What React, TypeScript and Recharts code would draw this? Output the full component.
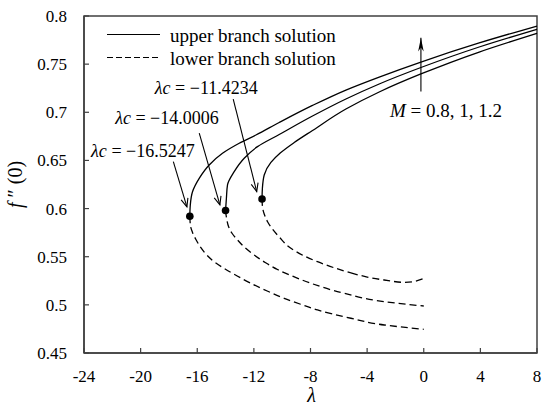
import React from 'react';
import {
  ComposedChart,
  Line,
  Scatter,
  XAxis,
  YAxis,
  ReferenceArea,
  ReferenceLine,
  ReferenceDot,
  Legend,
  Label,
} from 'recharts';

const FONT = '"Liberation Serif", "Times New Roman", "DejaVu Serif", serif';

// Axis ticks
const xTicks = [-24, -20, -16, -12, -8, -4, 0, 4, 8];
const yTicks = [0.45, 0.5, 0.55, 0.6, 0.65, 0.7, 0.75, 0.8];

// Upper branch solutions (solid)
const upperA = [
  { x: -16.5247, y: 0.592 }, { x: -16.491, y: 0.6037 }, { x: -16.335, y: 0.6175 },
  { x: -15.862, y: 0.6314 }, { x: -15.156, y: 0.6453 }, { x: -14.216, y: 0.6574 },
  { x: -13.036, y: 0.6678 }, { x: -11.857, y: 0.6764 }, { x: -10.211, y: 0.6894 },
  { x: -7.859, y: 0.7071 }, { x: -5.499, y: 0.7231 }, { x: -3.147, y: 0.7366 },
  { x: -0.201, y: 0.7522 }, { x: 3.917, y: 0.772 }, { x: 8, y: 0.7896 },
];
const upperB = [
  { x: -14.0006, y: 0.598 }, { x: -13.941, y: 0.6107 }, { x: -13.863, y: 0.6245 },
  { x: -13.39, y: 0.6383 }, { x: -12.683, y: 0.6522 }, { x: -11.744, y: 0.6643 },
  { x: -10.211, y: 0.6769 }, { x: -7.859, y: 0.6961 }, { x: -5.499, y: 0.7138 },
  { x: -3.147, y: 0.7294 }, { x: -0.201, y: 0.7465 }, { x: 3.917, y: 0.7678 },
  { x: 8, y: 0.7862 },
];
const upperC = [
  { x: -11.4234, y: 0.61 }, { x: -11.398, y: 0.6211 }, { x: -11.27, y: 0.6349 },
  { x: -10.797, y: 0.6479 }, { x: -10.14, y: 0.6577 }, { x: -9.151, y: 0.6686 },
  { x: -7.859, y: 0.6811 }, { x: -5.499, y: 0.7034 }, { x: -3.147, y: 0.7211 },
  { x: -0.201, y: 0.7398 }, { x: 3.917, y: 0.7626 }, { x: 8, y: 0.782 },
];

// Lower branch solutions (dashed)
const lowerA = [
  { x: -16.5247, y: 0.592 }, { x: -16.477, y: 0.5819 }, { x: -16.335, y: 0.5752 },
  { x: -16.074, y: 0.5674 }, { x: -15.756, y: 0.5596 }, { x: -15.297, y: 0.5513 },
  { x: -14.732, y: 0.544 }, { x: -14.096, y: 0.5378 }, { x: -13.178, y: 0.53 },
  { x: -12.21, y: 0.5224 }, { x: -11.058, y: 0.5144 }, { x: -9.858, y: 0.5068 },
  { x: -8.692, y: 0.5006 }, { x: -7.505, y: 0.4947 }, { x: -5.146, y: 0.4861 },
  { x: -2.793, y: 0.4791 }, { x: 0, y: 0.4746 },
];
const lowerB = [
  { x: -14.0006, y: 0.598 }, { x: -13.919, y: 0.5892 }, { x: -13.778, y: 0.5809 },
  { x: -13.531, y: 0.5741 }, { x: -13.157, y: 0.5674 }, { x: -12.648, y: 0.5596 },
  { x: -11.977, y: 0.5518 }, { x: -11.2, y: 0.544 }, { x: -10.331, y: 0.5367 },
  { x: -9.222, y: 0.5295 }, { x: -7.971, y: 0.5224 }, { x: -5.619, y: 0.512 },
  { x: -2.793, y: 0.5033 }, { x: 0, y: 0.4988 },
];
// lower branch C: near the turning point, then the tail with its shallow minimum
const lowerCTurn = [
  { x: -11.4234, y: 0.61 }, { x: -11.39, y: 0.6016 }, { x: -11.27, y: 0.5944 },
  { x: -11.023, y: 0.5861 }, { x: -10.67, y: 0.5783 }, { x: -10.211, y: 0.5705 },
  { x: -9.384, y: 0.5587 }, { x: -8.515, y: 0.5513 }, { x: -7.505, y: 0.5448 },
  { x: -6.326, y: 0.5385 }, { x: -5.146, y: 0.5331 },
];
const lowerCTail = [
  { x: -5.146, y: 0.5331 }, { x: -3.994, y: 0.5289 }, { x: -2.793, y: 0.5258 },
  { x: -1.381, y: 0.5234 }, { x: -0.674, y: 0.5243 }, { x: 0, y: 0.5274 },
];

// Critical points (turning points)
const criticalPoints = [
  { x: -16.5247, y: 0.592 },
  { x: -14.0006, y: 0.598 },
  { x: -11.4234, y: 0.61 },
];

// Annotation texts and arrows (data coordinates)
const criticalLabels = [
  { x: -23.5, y: 0.6537, value: '−16.5247' },
  { x: -21.8, y: 0.6879, value: '−14.0006' },
  { x: -19.0, y: 0.7191, value: '−11.4234' },
];
const criticalArrows = [
  { from: { x: -17.69, y: 0.6488 }, to: { x: -16.73, y: 0.6018 } },
  { from: { x: -15.86, y: 0.6783 }, to: { x: -14.4, y: 0.6039 } },
  { from: { x: -13.46, y: 0.7136 }, to: { x: -11.8, y: 0.6177 } },
];
const mArrow = { from: { x: -0.2, y: 0.7215 }, to: { x: -0.2, y: 0.7775 } };
const mLabel = { x: -2.39, y: 0.6947, value: ' = 0.8, 1, 1.2' };

const legendItems = [
  { label: 'upper branch solution', dash: undefined as string | undefined },
  { label: 'lower branch solution', dash: '6 3' },
];

const AXIS = '#404040';

const makeArrow = (filled: boolean) => (props: any) => {
  const { x1, y1, x2, y2 } = props;
  const ang = Math.atan2(y2 - y1, x2 - x1);
  const len = filled ? 14 : 9;
  const spread = filled ? 0.2 : 0.4;
  const ax = x2 - len * Math.cos(ang - spread);
  const ay = y2 - len * Math.sin(ang - spread);
  const bx = x2 - len * Math.cos(ang + spread);
  const by = y2 - len * Math.sin(ang + spread);
  return (
    <g>
      <line x1={x1} y1={y1} x2={x2} y2={y2} stroke="#000" strokeWidth={1.1} />
      {filled ? (
        <path d={`M${x2},${y2}L${ax},${ay}L${x2 - 0.7 * len * Math.cos(ang)},${y2 - 0.7 * len * Math.sin(ang)}L${bx},${by}Z`} fill="#000" />
      ) : (
        <path d={`M${ax},${ay}L${x2},${y2}L${bx},${by}`} fill="none" stroke="#000" strokeWidth={1.1} />
      )}
    </g>
  );
};

const YTitle = (props: any) => {
  const vb = props.viewBox || { x: 0, y: 16, width: 84, height: 337 };
  const cx = vb.x + 22;
  const cy = vb.y + vb.height / 2;
  return (
    <text
      x={cx}
      y={cy}
      transform={`rotate(-90 ${cx} ${cy})`}
      textAnchor="middle"
      fontFamily={FONT}
      fontSize={20}
      fill="#000"
    >
      <tspan fontStyle="italic">f</tspan>
      <tspan> ″ (0)</tspan>
    </text>
  );
};

const XTitle = (props: any) => {
  const vb = props.viewBox || { x: 84, y: 353, width: 453, height: 58 };
  return (
    <text
      x={vb.x + vb.width / 2 + 1}
      y={vb.y + 49}
      textAnchor="middle"
      fontFamily={FONT}
      fontSize={20}
      fontStyle="italic"
      fill="#000"
    >
      λ
    </text>
  );
};

const renderLegend = () => (
  <svg width={260} height={52} style={{ display: 'block' }}>
    {legendItems.map((it, i) => (
      <g key={it.label}>
        <line
          x1={7}
          x2={60}
          y1={14.5 + i * 23}
          y2={14.5 + i * 23}
          stroke="#000"
          strokeWidth={1.2}
          strokeDasharray={it.dash}
        />
        <text x={70} y={21.5 + i * 23} fontFamily={FONT} fontSize={19} fill="#000">
          {it.label}
        </text>
      </g>
    ))}
  </svg>
);

const tickStyle = { fontFamily: FONT, fontSize: 17, fill: '#000' };

const solid = { stroke: '#000', strokeWidth: 1.3, dot: false, isAnimationActive: false, dataKey: 'y' };
const dashed = { ...solid, strokeDasharray: '7 4' };

export default function App() {
  return (
    <div style={{ position: 'absolute', left: 0, top: 0, background: '#fff' }}>
      <ComposedChart
        width={550}
        height={411}
        margin={{ top: 16, right: 13, left: 0, bottom: 0 }}
      >
        <XAxis
          dataKey="x"
          type="number"
          domain={[-24, 8]}
          ticks={xTicks}
          interval={0}
          height={58}
          tickSize={-5}
          tickMargin={22}
          tick={tickStyle}
          axisLine={{ stroke: AXIS, strokeWidth: 1.5 }}
          tickLine={{ stroke: AXIS, strokeWidth: 1.2 }}
        >
          <Label content={XTitle} />
        </XAxis>
        <YAxis
          dataKey="y"
          type="number"
          domain={[0.45, 0.8]}
          ticks={yTicks}
          interval={0}
          width={84}
          tickSize={-5}
          tickMargin={22}
          tick={tickStyle}
          axisLine={{ stroke: AXIS, strokeWidth: 1.5 }}
          tickLine={{ stroke: AXIS, strokeWidth: 1.2 }}
        >
          <Label content={YTitle} />
        </YAxis>
        <ReferenceArea
          x1={-24}
          x2={8}
          y1={0.45}
          y2={0.8}
          fill="none"
          fillOpacity={0}
          stroke={AXIS}
          strokeWidth={1.5}
        />
        <Legend
          layout="vertical"
          align="center"
          verticalAlign="middle"
          wrapperStyle={{ left: 100, top: 20, width: 260, height: 52 }}
          content={renderLegend}
        />
        <Line data={upperA} type="monotoneY" {...solid} />
        <Line data={upperB} type="monotoneY" {...solid} />
        <Line data={upperC} type="monotoneY" {...solid} />
        <Line data={lowerA} type="monotoneY" {...dashed} />
        <Line data={lowerB} type="monotoneY" {...dashed} />
        <Line data={lowerCTurn} type="monotoneY" {...dashed} />
        <Line data={lowerCTail} type="monotoneX" {...dashed} />
        <Scatter
          data={criticalPoints}
          dataKey="y"
          fill="#000"
          isAnimationActive={false}
          shape={(p: any) => <circle cx={p.cx} cy={p.cy} r={3.8} fill="#000" />}
        />
        {criticalArrows.map((a, i) => (
          <ReferenceLine key={`ca${i}`} segment={[a.from, a.to]} shape={makeArrow(false)} />
        ))}
        <ReferenceLine segment={[mArrow.from, mArrow.to]} shape={makeArrow(true)} />
        {criticalLabels.map((l, i) => (
          <ReferenceDot
            key={`cl${i}`}
            x={l.x}
            y={l.y}
            r={0}
            shape={(p: any) => (
              <text x={p.cx} y={p.cy} fontFamily={FONT} fontSize={18} fill="#000">
                <tspan fontStyle="italic">λc</tspan>
                <tspan>{` = ${l.value}`}</tspan>
              </text>
            )}
          />
        ))}
        <ReferenceDot
          x={mLabel.x}
          y={mLabel.y}
          r={0}
          shape={(p: any) => (
            <text x={p.cx} y={p.cy} fontFamily={FONT} fontSize={19} fill="#000">
              <tspan fontStyle="italic">M</tspan>
              <tspan>{mLabel.value}</tspan>
            </text>
          )}
        />
      </ComposedChart>
    </div>
  );
}
